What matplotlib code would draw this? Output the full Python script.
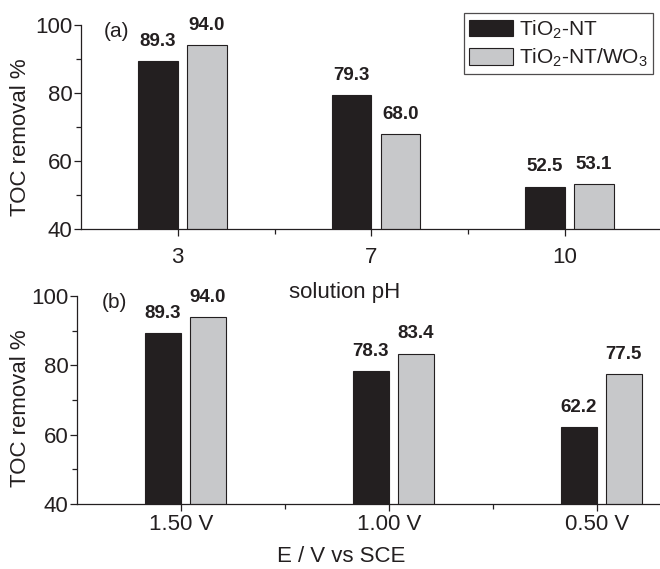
import matplotlib
matplotlib.use("Agg")
import matplotlib.pyplot as plt
import numpy as np

# ---------------------------------------------------------------------------
# Data
# ---------------------------------------------------------------------------
ph_labels = ["3", "7", "10"]
ph_nt = [89.3, 79.3, 52.5]
ph_wo3 = [94.0, 68.0, 53.1]

pot_labels = ["1.50 V", "1.00 V", "0.50 V"]
pot_nt = [89.3, 78.3, 62.2]
pot_wo3 = [94.0, 83.4, 77.5]

series_names = [r"TiO$_2$-NT", r"TiO$_2$-NT/WO$_3$"]

# ---------------------------------------------------------------------------
# Style
# ---------------------------------------------------------------------------
plt.rcParams["font.family"] = ["Liberation Sans", "DejaVu Sans"]
plt.rcParams["mathtext.fontset"] = "custom"
plt.rcParams["mathtext.rm"] = "Liberation Sans"
plt.rcParams["mathtext.it"] = "Liberation Sans:italic"
plt.rcParams["mathtext.bf"] = "Liberation Sans:bold"

INK = "#231f20"
BLACK_BAR = "#231f20"
GRAY_BAR = "#c7c8ca"


def draw_panel(ax, labels, nt, wo3, width, gap, tag, xlabel, label_pad):
    x = np.arange(1, len(labels) + 1)
    # black bar ends at the tick, grey bar starts a little after it
    ax.bar(x, nt, -width, align="edge", color=BLACK_BAR,
           edgecolor=INK, linewidth=0.8, zorder=2)
    ax.bar(x + gap, wo3, width, align="edge", color=GRAY_BAR,
           edgecolor=INK, linewidth=0.8, zorder=2)

    for xi, v in list(zip(x - width / 2, nt)) + list(zip(x + gap + width / 2, wo3)):
        ax.annotate(f"{v:.1f}", (xi, v), xytext=(0, 8),
                    textcoords="offset points", ha="center", va="bottom",
                    fontsize=13.5, fontweight="bold", color=INK)

    ax.set_xlim(0.5, 3.5)
    ax.set_ylim(40, 100)
    ax.set_xticks(x)
    ax.set_xticklabels(labels)
    ax.set_xticks([1.5, 2.5], minor=True)
    ax.set_yticks([40, 60, 80, 100])
    ax.set_yticks([50, 70, 90], minor=True)

    for s in ("top", "right"):
        ax.spines[s].set_visible(False)
    for s in ("left", "bottom"):
        ax.spines[s].set_color(INK)
        ax.spines[s].set_linewidth(0.9)

    ax.tick_params(axis="both", which="major", direction="out", length=5,
                   width=0.9, color=INK, labelcolor=INK, labelsize=16)
    ax.tick_params(axis="both", which="minor", direction="out", length=3.5,
                   width=0.9, color=INK)
    ax.tick_params(axis="x", which="major", pad=label_pad)
    ax.tick_params(axis="y", which="major", pad=1)

    ax.set_ylabel("TOC removal %", fontsize=16, color=INK)
    ax.set_xlabel(xlabel, fontsize=16, color=INK)
    ax.text(0.04, 1.015, tag, transform=ax.transAxes, fontsize=15,
            color=INK, ha="left", va="top")
    ax.patch.set_alpha(0)


fig = plt.figure(figsize=(6.6, 5.69), dpi=100)
ax1 = fig.add_axes([0.1227, 0.5975, 0.880, 0.3585])
ax2 = fig.add_axes([0.1167, 0.1142, 0.945, 0.3656])

draw_panel(ax1, ph_labels, ph_nt, ph_wo3, 0.205, 0.048, "(a)",
           "solution pH", 8)
draw_panel(ax2, pot_labels, pot_nt, pot_wo3, 0.172, 0.044, "(b)",
           "E / V vs SCE", 2)

# label positions (figure pixels converted to axes coords)
ax1.xaxis.set_label_coords((345 - 81) / 581, -0.26)
ax2.xaxis.set_label_coords((341 - 77) / 624, -0.2)
ax1.yaxis.set_label_coords((31 - 81) / 581, 0.45)
ax2.yaxis.set_label_coords((31 - 77) / 624, 0.46)

handles = [plt.Rectangle((0, 0), 1, 1, facecolor=BLACK_BAR, edgecolor=INK, linewidth=0.8),
           plt.Rectangle((0, 0), 1, 1, facecolor=GRAY_BAR, edgecolor=INK, linewidth=0.8)]
leg = fig.legend(handles, series_names, loc="upper right",
                 bbox_to_anchor=(653 / 660, 1 - 13 / 569),
                 bbox_transform=fig.transFigure, fontsize=15,
                 frameon=True, fancybox=False, borderaxespad=0,
                 handlelength=2.1, handleheight=0.85, handletextpad=0.3,
                 borderpad=0.25, labelspacing=0.3)
leg.get_frame().set_edgecolor(INK)
leg.get_frame().set_linewidth(0.9)
for t in leg.get_texts():
    t.set_color(INK)

fig.savefig("out.png", dpi=100)
